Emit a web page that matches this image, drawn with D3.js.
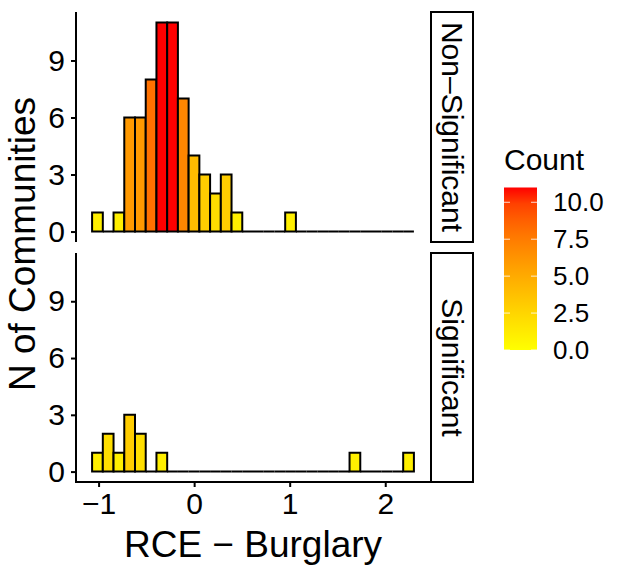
<!DOCTYPE html>
<html>
<head>
<meta charset="utf-8">
<script src="https://cdn.jsdelivr.net/npm/d3@7"></script>
<style>
  body { margin: 0; background: #fff; }
  text { font-family: "Liberation Sans", Arial, sans-serif; fill: #000; }
</style>
</head>
<body>
<div id="container"></div>
<script>
// Histogram data: 30 equal bins over the range of RCE values
var binRange = [-1.068, 2.300];
var nonSigCounts = [1, 0, 1, 6, 6, 8, 11, 11, 7, 4, 3, 2, 3, 1, 0, 0, 0, 0, 1, 0, 0, 0, 0, 0, 0, 0, 0, 0, 0, 0];
var sigCounts = [1, 2, 1, 3, 2, 0, 1, 0, 0, 0, 0, 0, 0, 0, 0, 0, 0, 0, 0, 0, 0, 0, 0, 0, 1, 0, 0, 0, 0, 1];
var panelNames = ["Non\u2013Significant", "Significant"];
var xTicks = [-1, 0, 1, 2];
var yTicks = [0, 3, 6, 9];
var legendTicks = [0, 2.5, 5, 7.5, 10];
var countMax = 11;

// SVG dimensions
var width = 627,
    height = 574;

var svg = d3.select("#container")
    .append("svg")
    .attr("width", width)
    .attr("height", height);

// Panel geometry
var left = 76, right = 430;
var panels = [
    { name: panelNames[0], counts: nonSigCounts, top: 12, bottom: 242 },
    { name: panelNames[1], counts: sigCounts, top: 253, bottom: 482 }
];

var nBins = nonSigCounts.length;
var binWidth = (binRange[1] - binRange[0]) / nBins;
var pad = (binRange[1] - binRange[0]) * 0.05;

var xScale = d3.scaleLinear()
    .domain([binRange[0] - pad, binRange[1] + pad])
    .range([left, right]);

var color = d3.scaleLinear()
    .domain([0, countMax])
    .range(["yellow", "red"])
    .interpolate(d3.interpolateLab);

panels.forEach(function(p, pi) {
    var yScale = d3.scaleLinear()
        .domain([-countMax * 0.05, countMax * 1.05])
        .range([p.bottom, p.top]);

    var g = svg.append("g");

    // Bars (paths so that zero-count bins still draw the baseline)
    g.selectAll(".bar")
        .data(p.counts)
        .enter()
        .append("path")
        .attr("class", "bar")
        .attr("fill", function(d) { return color(d); })
        .attr("stroke", "#000")
        .attr("stroke-width", 2)
        .attr("d", function(d, i) {
            var x0 = xScale(binRange[0] + i * binWidth),
                x1 = xScale(binRange[0] + (i + 1) * binWidth),
                y0 = yScale(0),
                y1 = yScale(d);
            return "M" + x0 + "," + y0 + "V" + y1 + "H" + x1 + "V" + y0 + "Z";
        });

    // Y axis
    var yAxis = g.append("g")
        .attr("transform", "translate(" + left + ",0)")
        .call(d3.axisLeft(yScale).tickValues(yTicks).tickSize(5).tickPadding(6).tickSizeOuter(0));
    yAxis.select(".domain").attr("stroke", "#000").attr("stroke-width", 2)
        .attr("d", "M0," + p.top + "V" + p.bottom);
    yAxis.selectAll(".tick line").attr("stroke", "#000").attr("stroke-width", 2);
    yAxis.selectAll(".tick text")
        .style("font-size", "30px")
        .style("font-family", "Liberation Sans, Arial, sans-serif")
        .attr("fill", "#000");

    // Strip on the right
    svg.append("rect")
        .attr("x", right + 1)
        .attr("y", p.top)
        .attr("width", 42)
        .attr("height", p.bottom - p.top)
        .attr("fill", "#fff")
        .attr("stroke", "#000")
        .attr("stroke-width", 2);
    svg.append("text")
        .attr("transform", "translate(" + (right + 22) + "," + ((p.top + p.bottom) / 2) + ") rotate(90)")
        .attr("text-anchor", "middle")
        .attr("dominant-baseline", "central")
        .style("font-size", "30px")
        .text(p.name);

    // X axis only on the bottom panel
    if (pi == panels.length - 1) {
        var xAxis = g.append("g")
            .attr("transform", "translate(0," + p.bottom + ")")
            .call(d3.axisBottom(xScale).tickValues(xTicks).tickSize(5).tickPadding(6).tickSizeOuter(0)
                .tickFormat(function(d) { return d < 0 ? "\u2212" + Math.abs(d) : d; }));
        xAxis.select(".domain").attr("stroke", "#000").attr("stroke-width", 2)
            .attr("d", "M" + (left - 1) + ",0H" + right);
        xAxis.selectAll(".tick line").attr("stroke", "#000").attr("stroke-width", 2);
        xAxis.selectAll(".tick text")
            .style("font-size", "30px")
            .style("font-family", "Liberation Sans, Arial, sans-serif")
            .attr("fill", "#000");
    }
});

// Axis titles
svg.append("text")
    .attr("x", (left + right) / 2 + 0)
    .attr("y", 557)
    .attr("text-anchor", "middle")
    .style("font-size", "37px")
    .text("RCE \u2212 Burglary");
svg.append("text")
    .attr("transform", "translate(35,244) rotate(-90)")
    .attr("text-anchor", "middle")
    .style("font-size", "37px")
    .text("N of Communities");

// Colour bar legend
var legX = 504, legW = 33;
var legScale = d3.scaleLinear()
    .domain([0, countMax])
    .range([350, 187.5]);

var grad = svg.append("defs")
    .append("linearGradient")
    .attr("id", "countGrad")
    .attr("x1", 0).attr("y1", 1).attr("x2", 0).attr("y2", 0);
d3.range(0, 11).forEach(function(k) {
    grad.append("stop")
        .attr("offset", k / 10)
        .attr("stop-color", color(countMax * k / 10));
});

svg.append("rect")
    .attr("x", legX)
    .attr("y", legScale(countMax))
    .attr("width", legW)
    .attr("height", legScale(0) - legScale(countMax))
    .attr("fill", "url(#countGrad)");

legendTicks.forEach(function(t) {
    var y = legScale(t);
    svg.append("line")
        .attr("x1", legX).attr("x2", legX + 6)
        .attr("y1", y).attr("y2", y)
        .attr("stroke", "#fff").attr("stroke-width", 1).attr("opacity", 0.8);
    svg.append("line")
        .attr("x1", legX + legW - 6).attr("x2", legX + legW)
        .attr("y1", y).attr("y2", y)
        .attr("stroke", "#fff").attr("stroke-width", 1).attr("opacity", 0.8);
    svg.append("text")
        .attr("x", 553)
        .attr("y", y)
        .attr("dominant-baseline", "central")
        .style("font-size", "26px")
        .text(d3.format(".1f")(t));
});

svg.append("text")
    .attr("x", 504)
    .attr("y", 170)
    .style("font-size", "30px")
    .text("Count");
</script>
</body>
</html>
